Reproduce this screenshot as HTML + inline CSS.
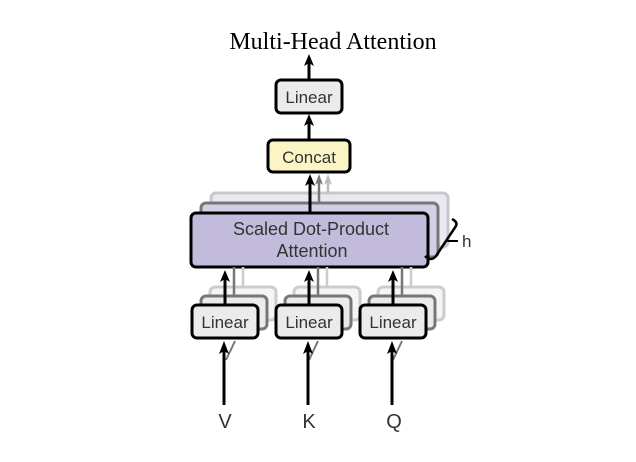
<!DOCTYPE html>
<html><head><style>
body{margin:0;background:#fff;}
svg{display:block;}
text{font-family:"Liberation Sans",sans-serif;}
</style></head><body>
<svg width="636" height="462" viewBox="0 0 636 462" xmlns="http://www.w3.org/2000/svg">
<text x="333" y="49" text-anchor="middle" style="font-family:'Liberation Serif',serif" font-size="24">Multi-Head Attention</text>

<!-- top linear -->
<line x1="309" y1="80" x2="309" y2="62" stroke="#000" stroke-width="3"/>
<path d="M304,66 L309,54 L314,66 L309,63Z" fill="#000"/>
<rect x="276" y="80" width="66" height="33" rx="5" fill="#e9ece9" stroke="#000" stroke-width="3"/>
<text x="309" y="103" text-anchor="middle" font-size="17" fill="#333">Linear</text>
<line x1="309" y1="140" x2="309" y2="122" stroke="#000" stroke-width="3"/>
<path d="M304,126 L309,114 L314,126 L309,123Z" fill="#000"/>
<rect x="268" y="140" width="82" height="32" rx="5" fill="#fbf5c6" stroke="#000" stroke-width="3"/>
<text x="309" y="163" text-anchor="middle" font-size="17" fill="#333">Concat</text>

<!-- SDPA shadows -->
<rect x="211" y="193" width="237" height="54" rx="5" fill="#ebe8f3" stroke="#c8c8c8" stroke-width="3"/>
<line x1="328" y1="193" x2="328" y2="182" stroke="#bbb" stroke-width="2.5"/>
<path d="M324,185 L328,174 L332,185 L328,182Z" fill="#bbb"/>
<rect x="201" y="203" width="237" height="54" rx="5" fill="#d4cfe6" stroke="#777" stroke-width="3"/>
<line x1="319" y1="203" x2="319" y2="182" stroke="#777" stroke-width="2.5"/>
<path d="M315,185 L319,174 L323,185 L319,182Z" fill="#777"/>
<rect x="191" y="213" width="237" height="54" rx="5" fill="#c2bbdc" stroke="#000" stroke-width="3"/>
<line x1="310" y1="213" x2="310" y2="182" stroke="#000" stroke-width="3"/>
<path d="M305,186 L310,174 L315,186 L310,183Z" fill="#000"/>
<text x="311" y="235" text-anchor="middle" font-size="18" fill="#333">Scaled Dot-Product</text>
<text x="312" y="257" text-anchor="middle" font-size="18" fill="#333">Attention</text>
<path d="M425,256 Q431,262 436,256 L456,226 Q458,222 452,219" fill="none" stroke="#000" stroke-width="2.5"/>
<line x1="446" y1="241" x2="458" y2="241" stroke="#000" stroke-width="2"/>
<text x="462" y="247" font-size="17" fill="#333">h</text>

<!-- bottom linears -->
<g fill="#f4f5f4" stroke="#ccc" stroke-width="3">
<rect x="210" y="287" width="66" height="33" rx="5"/><rect x="294" y="287" width="66" height="33" rx="5"/><rect x="378" y="287" width="66" height="33" rx="5"/>
</g>
<g stroke="#ccc" stroke-width="2.5"><line x1="243" y1="287" x2="243" y2="267"/><line x1="327" y1="287" x2="327" y2="267"/><line x1="411" y1="287" x2="411" y2="267"/></g>
<g fill="#e9ece9" stroke="#777" stroke-width="3">
<rect x="201" y="296" width="66" height="33" rx="5"/><rect x="285" y="296" width="66" height="33" rx="5"/><rect x="369" y="296" width="66" height="33" rx="5"/>
</g>
<g stroke="#777" stroke-width="2.5"><line x1="234" y1="296" x2="234" y2="267"/><line x1="318" y1="296" x2="318" y2="267"/><line x1="402" y1="296" x2="402" y2="267"/></g>
<g fill="#e9ece9" stroke="#000" stroke-width="3">
<rect x="192" y="305" width="66" height="33" rx="5"/><rect x="276" y="305" width="66" height="33" rx="5"/><rect x="360" y="305" width="66" height="33" rx="5"/>
</g>
<g stroke="#000" stroke-width="3">
<line x1="225" y1="305" x2="225" y2="278"/>
<line x1="309" y1="305" x2="309" y2="278"/>
<line x1="393" y1="305" x2="393" y2="278"/>
</g>
<g fill="#000">
<path d="M220,282 L225,270 L230,282 L225,279Z"/>
<path d="M304,282 L309,270 L314,282 L309,279Z"/>
<path d="M388,282 L393,270 L398,282 L393,279Z"/>
</g>
<g font-size="17" fill="#333" text-anchor="middle">
<text x="225" y="328">Linear</text><text x="309" y="328">Linear</text><text x="393" y="328">Linear</text>
</g>
<g stroke="#777" stroke-width="2"><line x1="226" y1="360" x2="235" y2="341"/><line x1="309" y1="360" x2="318" y2="341"/><line x1="393" y1="360" x2="402" y2="341"/></g>
<g stroke="#000" stroke-width="3">
<line x1="224" y1="405" x2="224" y2="350"/>
<line x1="308" y1="405" x2="308" y2="350"/>
<line x1="392" y1="405" x2="392" y2="350"/>
</g>
<g fill="#000">
<path d="M219,354 L224,341 L229,354 L224,351Z"/>
<path d="M303,354 L308,341 L313,354 L308,351Z"/>
<path d="M387,354 L392,341 L397,354 L392,351Z"/>
</g>
<g font-size="20" fill="#333" text-anchor="middle">
<text x="225" y="428">V</text><text x="309" y="428">K</text><text x="394" y="428">Q</text>
</g>
</svg>
</body></html>
